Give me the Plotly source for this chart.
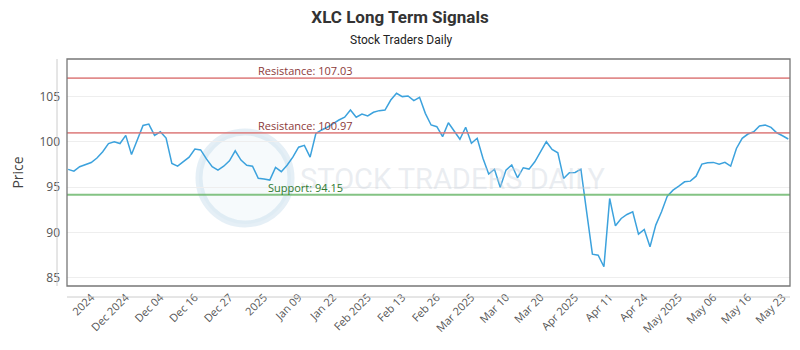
import plotly.graph_objects as go

title_text = "XLC Long Term Signals"
subtitle_text = "Stock Traders Daily"

prices = [
    96.95, 96.76, 97.24, 97.5, 97.7, 98.2, 98.9, 99.8, 100.0, 99.8,
    100.7, 98.6, 100.2, 101.8, 101.95, 100.7, 101.1, 100.4, 97.6, 97.3,
    97.8, 98.3, 99.2, 99.1, 98.1, 97.24, 96.87, 97.3, 97.9, 99.0,
    97.98, 97.4, 97.3, 95.96, 95.88, 95.77, 97.17, 96.7, 97.4, 98.3,
    99.4, 99.6, 98.3, 100.9, 101.3, 101.6, 102.0, 102.4, 102.7, 103.5,
    102.7, 103.06, 102.84, 103.25, 103.43, 103.5, 104.6, 105.35, 104.98, 105.05,
    104.54, 104.9, 103.13, 101.85, 101.66, 100.56, 102.1, 101.2, 100.27, 101.6,
    99.83, 100.38, 98.17, 96.44, 96.96, 94.97, 96.87, 97.43, 96.02, 97.13,
    96.98, 97.79, 98.9, 100.0, 99.15, 98.78, 95.95, 96.58, 96.61, 96.98,
    92.27, 87.59, 87.48, 86.2, 93.74, 90.72, 91.53, 91.97, 92.27, 89.8,
    90.31, 88.4, 90.8, 92.27, 94.0, 94.66, 95.1, 95.58, 95.65, 96.2,
    97.53, 97.68, 97.72, 97.53, 97.72, 97.31, 99.26, 100.37, 100.85, 101.1,
    101.73, 101.84, 101.58, 100.99, 100.66, 100.3,
]

tick_labels = ["2024", "Dec 2024", "Dec 04", "Dec 16", "Dec 27", "2025", "Jan 09",
               "Jan 22", "Feb 2025", "Feb 13", "Feb 26", "Mar 2025", "Mar 10",
               "Mar 20", "Apr 2025", "Apr 11", "Apr 24", "May 2025", "May 06",
               "May 16", "May 23"]
tick_index = [4, 10, 16, 22, 28, 34, 40, 46, 52, 58, 64, 70, 76, 82, 88, 94,
              100, 106, 112, 118, 124]

levels = [107.03, 100.97, 94.15]
level_labels = ["Resistance: 107.03", "Resistance: 100.97", "Support: 94.15"]
level_colors = ["rgba(220,120,120,0.85)", "rgba(220,120,120,0.85)", "rgba(110,185,110,0.85)"]
level_text_colors = ["#8c3a3a", "#8c3a3a", "#2f7a2f"]

x_idx = list(range(len(prices)))

# page body has an 8px margin; the figure is sized and offset to compensate
PW, PH = 723, 227  # plot area size in px
FH = 342

fig = go.Figure()
fig.add_trace(go.Scatter(x=x_idx, y=prices, mode="lines",
                         line=dict(color="#3ca2dd", width=1.5),
                         hoverinfo="skip", showlegend=False))

shapes = []
annotations = []

# watermark
shapes.append(dict(type="circle", xref="paper", yref="paper",
                   x0=(199 - 67) / PW, x1=(291 - 67) / PW,
                   y0=(286 - 224) / PH, y1=(286 - 132) / PH,
                   line=dict(color="rgba(190,215,232,0.40)", width=7),
                   fillcolor="rgba(225,238,246,0.30)", layer="below"))
annotations.append(dict(text="STOCK TRADERS DAILY", xref="paper", yref="paper",
                        x=(452 - 67) / PW, y=(286 - 179) / PH, showarrow=False,
                        font=dict(family="Roboto", size=29, color="rgba(205,212,222,0.42)"),
                        xanchor="center", yanchor="middle"))

for lv, lab, lc, tc in zip(levels, level_labels, level_colors, level_text_colors):
    shapes.append(dict(type="line", xref="paper", yref="y", x0=0, x1=1, y0=lv, y1=lv,
                       line=dict(color=lc, width=1.8)))
    annotations.append(dict(text=lab, xref="paper", yref="y", x=(305 - 67) / PW, y=lv,
                            showarrow=False, xanchor="center", yanchor="bottom", yshift=-2,
                            font=dict(family="Open Sans", size=11, color=tc)))

# plot frame
shapes.append(dict(type="rect", xref="paper", yref="paper", x0=0, x1=1, y0=0, y1=1,
                   line=dict(color="#777777", width=1.3)))
# offset axis lines
shapes.append(dict(type="line", xref="paper", yref="paper", x0=-10 / PW, x1=-10 / PW,
                   y0=0, y1=1, line=dict(color="#cccccc", width=1)))
shapes.append(dict(type="line", xref="paper", yref="paper", x0=0, x1=1,
                   y0=-11 / PH, y1=-11 / PH, line=dict(color="#cccccc", width=1)))

annotations.append(dict(text=subtitle_text, xref="paper", yref="paper",
                        x=(401 - 67) / PW, xanchor="center", y=(286 - 40) / PH, yanchor="middle",
                        showarrow=False, font=dict(family="Roboto", size=12, color="#222222")))

fig.update_layout(
    width=792, height=FH,
    margin=dict(l=59, r=10, t=51, b=64, autoexpand=False),
    paper_bgcolor="white", plot_bgcolor="white",
    shapes=shapes, annotations=annotations,
    title=dict(text="<b>" + title_text + "</b>", x=(400 - 8) / 792, xanchor="center",
               y=1 - (17 - 8) / FH, yanchor="middle",
               font=dict(family="Roboto", size=17, color="#333333")),
    xaxis=dict(range=[-0.2, 125.3], tickmode="array", tickvals=tick_index,
               ticktext=tick_labels, tickangle=-45, showgrid=False, zeroline=False,
               showline=False, ticks="", ticklabelstandoff=2, automargin=False,
               tickfont=dict(family="Open Sans", size=11, color="#555555")),
    yaxis=dict(range=[84.08, 109.13], tickvals=[85, 90, 95, 100, 105],
               showgrid=True, gridcolor="#eeeeee", gridwidth=1, zeroline=False,
               showline=False, ticks="", ticklabelstandoff=6, automargin=False,
               title=dict(text="Price", font=dict(family="Open Sans", size=14, color="#444444"),
                          standoff=12),
               tickfont=dict(family="Open Sans", size=12, color="#555555")),
)

fig.write_html("out.html")
